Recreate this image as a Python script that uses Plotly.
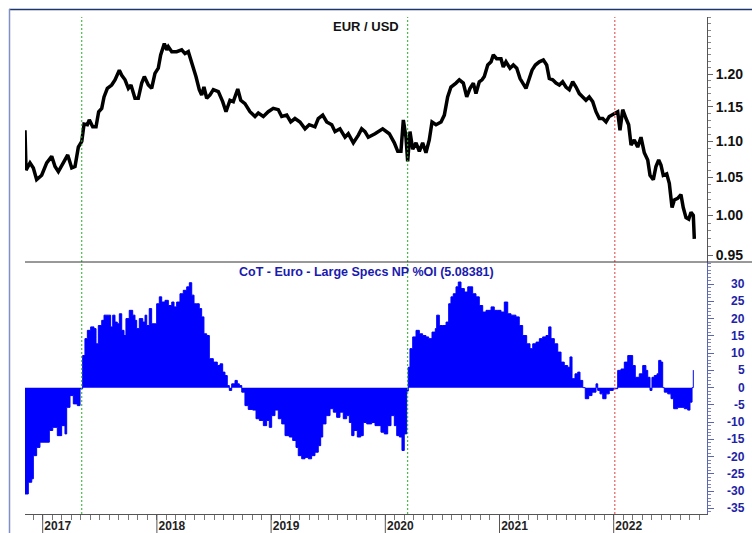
import math
import plotly.graph_objects as go

# ---------------- data ----------------
# EUR/USD weekly close, time in decimal years
eur_t = [2016.845, 2016.854, 2016.889, 2016.918, 2016.947, 2016.991, 2017.035, 2017.079, 2017.108, 2017.137,
         2017.180, 2017.219, 2017.254, 2017.283, 2017.312, 2017.342, 2017.362, 2017.391, 2017.408, 2017.438,
         2017.467, 2017.490, 2017.517, 2017.537, 2017.566, 2017.604, 2017.633, 2017.653, 2017.671, 2017.692,
         2017.721, 2017.750, 2017.773, 2017.808, 2017.837, 2017.867, 2017.890, 2017.925, 2017.954, 2017.983,
         2018.012, 2018.033, 2018.065, 2018.086, 2018.100, 2018.130, 2018.173, 2018.217, 2018.246, 2018.275,
         2018.305, 2018.342, 2018.371, 2018.392, 2018.412, 2018.436, 2018.465, 2018.494, 2018.538, 2018.576,
         2018.605, 2018.640, 2018.669, 2018.708, 2018.734, 2018.771, 2018.815, 2018.859, 2018.888, 2018.932,
         2018.975, 2019.019, 2019.063, 2019.093, 2019.137, 2019.172, 2019.209, 2019.253, 2019.297, 2019.334,
         2019.384, 2019.413, 2019.452, 2019.487, 2019.531, 2019.560, 2019.603, 2019.647, 2019.676, 2019.720,
         2019.764, 2019.793, 2019.822, 2019.851, 2019.910, 2019.977, 2020.035, 2020.079, 2020.109, 2020.137,
         2020.158, 2020.181, 2020.196, 2020.216, 2020.240, 2020.269, 2020.298, 2020.327, 2020.356, 2020.385,
         2020.409, 2020.444, 2020.488, 2020.517, 2020.546, 2020.575, 2020.619, 2020.648, 2020.683, 2020.713,
         2020.742, 2020.771, 2020.794, 2020.823, 2020.847, 2020.867, 2020.897, 2020.926, 2020.946, 2020.975,
         2021.013, 2021.033, 2021.057, 2021.092, 2021.121, 2021.151, 2021.180, 2021.208, 2021.232, 2021.261,
         2021.285, 2021.314, 2021.349, 2021.384, 2021.413, 2021.436, 2021.466, 2021.495, 2021.524, 2021.553,
         2021.582, 2021.611, 2021.641, 2021.670, 2021.699, 2021.729, 2021.757, 2021.786, 2021.816, 2021.845,
         2021.874, 2021.904, 2021.933, 2021.961, 2022.005, 2022.035, 2022.055, 2022.079, 2022.108, 2022.131,
         2022.152, 2022.180, 2022.210, 2022.239, 2022.268, 2022.298, 2022.318, 2022.347, 2022.370, 2022.394,
         2022.414, 2022.434, 2022.464, 2022.487, 2022.511, 2022.531, 2022.560, 2022.589, 2022.609, 2022.633,
         2022.657, 2022.677, 2022.697, 2022.706]
eur_v = [1.116, 1.060, 1.070, 1.063, 1.047, 1.053, 1.070, 1.079, 1.065, 1.058,
         1.070, 1.081, 1.063, 1.065, 1.092, 1.100, 1.125, 1.124, 1.131, 1.121,
         1.121, 1.143, 1.148, 1.165, 1.178, 1.183, 1.191, 1.198, 1.206, 1.198,
         1.191, 1.178, 1.183, 1.163, 1.163, 1.186, 1.196, 1.183, 1.178, 1.201,
         1.209, 1.230, 1.248, 1.238, 1.243, 1.235, 1.235, 1.238, 1.232, 1.235,
         1.219, 1.196, 1.176, 1.168, 1.180, 1.163, 1.168, 1.176, 1.173, 1.158,
         1.143, 1.160, 1.158, 1.177, 1.160, 1.155, 1.143, 1.136, 1.141, 1.136,
         1.143, 1.148, 1.146, 1.136, 1.138, 1.128, 1.133, 1.128, 1.118, 1.124,
         1.121, 1.133, 1.138, 1.128, 1.124, 1.114, 1.118, 1.106, 1.111, 1.098,
         1.109, 1.118, 1.114, 1.106, 1.111, 1.118, 1.111, 1.098, 1.086, 1.086,
         1.131, 1.106, 1.072, 1.114, 1.089, 1.098, 1.086, 1.098, 1.084, 1.102,
         1.128, 1.124, 1.128, 1.138, 1.165, 1.180, 1.186, 1.191, 1.186, 1.165,
         1.178, 1.186, 1.170, 1.188, 1.191, 1.196, 1.214, 1.219, 1.230, 1.224,
         1.224, 1.211, 1.219, 1.209, 1.214, 1.209, 1.193, 1.186, 1.178, 1.193,
         1.206, 1.214, 1.219, 1.222, 1.214, 1.193, 1.191, 1.186, 1.183, 1.188,
         1.180, 1.176, 1.188, 1.180, 1.170, 1.165, 1.160, 1.165, 1.158, 1.143,
         1.133, 1.133, 1.128, 1.136, 1.141, 1.143, 1.116, 1.146, 1.133, 1.124,
         1.095, 1.102, 1.092, 1.106, 1.084, 1.074, 1.053, 1.047, 1.065, 1.074,
         1.067, 1.053, 1.055, 1.042, 1.010, 1.020, 1.022, 1.027, 1.010, 0.997,
         0.995, 1.004, 1.000, 0.970]

# CoT - Euro - Large Specs net position as % of open interest
cot_t = [2016.845, 2016.874, 2016.904, 2016.918, 2016.947, 2016.976, 2017.020, 2017.058, 2017.088, 2017.128,
         2017.166, 2017.195, 2017.210, 2017.239, 2017.268, 2017.303, 2017.327, 2017.350, 2017.370, 2017.391,
         2017.420, 2017.449, 2017.467, 2017.487, 2017.517, 2017.537, 2017.574, 2017.595, 2017.613, 2017.633,
         2017.653, 2017.671, 2017.692, 2017.712, 2017.729, 2017.758, 2017.788, 2017.808, 2017.823, 2017.846,
         2017.876, 2017.896, 2017.911, 2017.933, 2017.954, 2017.975, 2017.998, 2018.021, 2018.042, 2018.071,
         2018.100, 2018.130, 2018.150, 2018.173, 2018.202, 2018.231, 2018.261, 2018.284, 2018.305, 2018.325,
         2018.349, 2018.371, 2018.392, 2018.412, 2018.436, 2018.459, 2018.494, 2018.529, 2018.553, 2018.576,
         2018.596, 2018.616, 2018.634, 2018.655, 2018.684, 2018.704, 2018.722, 2018.743, 2018.771, 2018.800,
         2018.839, 2018.868, 2018.897, 2018.932, 2018.961, 2018.984, 2019.005, 2019.034, 2019.063, 2019.093,
         2019.122, 2019.159, 2019.189, 2019.218, 2019.238, 2019.268, 2019.297, 2019.326, 2019.355, 2019.384,
         2019.413, 2019.434, 2019.452, 2019.481, 2019.516, 2019.545, 2019.574, 2019.603, 2019.632, 2019.662,
         2019.685, 2019.706, 2019.726, 2019.755, 2019.785, 2019.807, 2019.837, 2019.881, 2019.910, 2019.962,
         2019.991, 2020.021, 2020.050, 2020.079, 2020.100, 2020.123, 2020.146, 2020.166, 2020.187, 2020.201,
         2020.216, 2020.240, 2020.269, 2020.298, 2020.327, 2020.356, 2020.380, 2020.409, 2020.438, 2020.450,
         2020.473, 2020.503, 2020.532, 2020.555, 2020.575, 2020.595, 2020.619, 2020.639, 2020.663, 2020.692,
         2020.722, 2020.742, 2020.765, 2020.794, 2020.823, 2020.853, 2020.882, 2020.926, 2020.954, 2020.984,
         2021.013, 2021.042, 2021.072, 2021.101, 2021.144, 2021.173, 2021.203, 2021.238, 2021.267, 2021.291,
         2021.320, 2021.349, 2021.378, 2021.407, 2021.431, 2021.451, 2021.480, 2021.510, 2021.539, 2021.567,
         2021.597, 2021.617, 2021.635, 2021.661, 2021.685, 2021.705, 2021.729, 2021.751, 2021.781, 2021.810,
         2021.845, 2021.860, 2021.880, 2021.904, 2021.933, 2021.961, 2021.996, 2022.035, 2022.064, 2022.093,
         2022.123, 2022.152, 2022.166, 2022.189, 2022.224, 2022.254, 2022.282, 2022.298, 2022.318, 2022.335,
         2022.355, 2022.379, 2022.394, 2022.414, 2022.429, 2022.443, 2022.473, 2022.502, 2022.525, 2022.560,
         2022.589, 2022.618, 2022.648, 2022.668, 2022.686, 2022.697]
cot_v = [-30.8, -27.4, -26.4, -19.7, -17.3, -15.8, -15.8, -12.4, -11.5, -13.9,
         -11.0, -13.4, -5.7, -2.3, -4.7, -5.2, -0.3, 9.3, 14.2, 16.6,
         17.6, 17.1, 12.7, 18.0, 19.5, 21.0, 21.0, 17.6, 21.0, 19.0,
         18.5, 21.4, 16.6, 15.1, 20.0, 22.4, 21.0, 19.5, 17.1, 20.0,
         19.0, 21.0, 18.0, 22.9, 18.5, 18.5, 24.3, 26.3, 24.8, 25.3,
         23.8, 24.8, 23.4, 24.8, 27.2, 28.2, 29.2, 30.4, 26.8, 24.3,
         24.3, 22.9, 20.5, 15.6, 15.1, 8.4, 7.4, 6.4, 6.9, 4.5,
         3.5, 0.6, -0.8, 1.1, 2.1, 1.1, 0.6, -1.3, -5.2, -6.3,
         -6.5, -9.0, -9.5, -11.0, -9.5, -11.5, -8.1, -6.5, -9.0, -10.5,
         -13.9, -14.3, -15.3, -17.3, -19.7, -20.6, -20.2, -20.6, -19.7, -18.7,
         -16.8, -14.3, -10.5, -8.1, -6.1, -7.1, -8.6, -7.1, -9.0, -8.1,
         -10.1, -13.9, -12.4, -14.3, -13.9, -10.1, -10.5, -10.1, -11.0, -12.9,
         -13.4, -11.0, -8.1, -11.0, -13.9, -14.3, -18.2, -13.4, -1.0, 5.9,
         11.3, 14.7, 16.6, 15.6, 15.1, 14.7, 14.2, 16.1, 17.1, 21.0,
         18.0, 18.0, 19.0, 24.3, 26.3, 27.2, 29.2, 30.6, 28.7, 27.7,
         29.2, 29.2, 27.2, 26.3, 23.8, 21.9, 22.4, 23.4, 22.4, 22.4,
         21.9, 24.8, 21.4, 21.0, 20.5, 18.0, 15.1, 12.7, 11.3, 12.7,
         13.2, 14.2, 14.7, 15.1, 17.6, 14.2, 12.7, 10.3, 7.4, 6.4,
         5.9, 8.9, 2.6, 4.0, 4.5, 2.1, 0.0, -3.2, -2.3, -1.3,
         1.1, -0.8, -1.8, -3.2, -1.8, -0.8, -0.3, 5.0, 5.4, 7.4,
         9.3, 9.3, 6.4, 3.0, 4.0, 6.4, 5.0, 3.0, -0.8, 3.0,
         3.5, 4.0, 7.9, 7.4, 0.0, -1.3, -1.8, -3.2, -6.1, -5.7,
         -5.7, -6.1, -6.5, -4.2, 0.0, 5.08381]

tick_years = [2017, 2018, 2019, 2020, 2021, 2022]
eur_ticks = [0.95, 1.00, 1.05, 1.10, 1.15, 1.20]
cot_ticks = [30, 25, 20, 15, 10, 5, 0, -5, -10, -15, -20, -25, -30, -35]
event_t = [2017.342, 2020.196, 2022.010]
event_colors = ["#22b022", "#22b022", "#e03c3c"]

# ---------------- figure ----------------
W, H = 752, 533
ML, MR, MT, MB = 25, 45, 17, 19
PW, PH = W - ML - MR, H - MT - MB
split = (514 - 262) / PH  # boundary between the two panels (paper units)

def px_x(p):
    return (p - ML) / PW

def px_y(p):
    return (H - MB - p) / PH

fig = go.Figure()
fig.add_trace(go.Scatter(x=eur_t, y=eur_v, mode="lines", xaxis="x", yaxis="y",
                         line=dict(color="black", width=3.5), hoverinfo="skip", showlegend=False))
fig.add_trace(go.Scatter(x=cot_t, y=cot_v, mode="lines", xaxis="x", yaxis="y2",
                         line=dict(color="#0000ff", width=1, shape="hv"),
                         fill="tozeroy", fillcolor="#0000ff", hoverinfo="skip", showlegend=False))

bold = dict(family="Liberation Sans, Arial, sans-serif", weight="bold")

fig.update_layout(
    width=W, height=H,
    margin=dict(l=ML, r=MR, t=MT, b=MB, autoexpand=False),
    paper_bgcolor="white", plot_bgcolor="white",
    showlegend=False,
    xaxis=dict(
        range=[2016.845, 2022.817], anchor="y2", showgrid=False, zeroline=False, automargin=False,
        showline=True, linecolor="#555", linewidth=1,
        tickvals=tick_years, ticktext=[str(y) for y in tick_years],
        ticks="outside", ticklen=1, tickcolor="#555",
        tickfont=dict(size=12, color="#222", **bold), ticklabelshift=15,
        minor=dict(dtick=1/12, tick0=2017, ticks="outside", ticklen=5, tickcolor="#777"),
    ),
    yaxis=dict(
        type="log", domain=[split, 1], automargin=False,
        range=[math.log10(0.9415), math.log10(1.2916)],
        side="right", anchor="x", showgrid=False, zeroline=False,
        showline=True, linecolor="#555", linewidth=1,
        tickvals=eur_ticks, ticktext=["%.2f" % v for v in eur_ticks],
        ticks="outside", ticklen=5, tickcolor="#666",
        tickfont=dict(size=14, color="#111", **bold),
        minor=dict(tickvals=[round(0.94 + 0.01 * i, 2) for i in range(36)],
                   ticks="outside", ticklen=3, tickcolor="#888"),
    ),
    yaxis2=dict(
        domain=[0, split], range=[-36.6, 36.4], automargin=False,
        side="right", anchor="x", showgrid=False, zeroline=False,
        showline=True, linecolor="#5a66b0", linewidth=1,
        tickvals=cot_ticks, showticklabels=False,
        ticks="outside", ticklen=6, tickcolor="#5a66b0",
        minor=dict(dtick=1, ticks="outside", ticklen=3, tickcolor="#7c86c4"),
    ),
)

shapes = []
# event lines
for t, c in zip(event_t, event_colors):
    shapes.append(dict(type="line", xref="x", yref="paper", x0=t, x1=t, y0=0, y1=1,
                       line=dict(color=c, width=1, dash="2px,2px")))
# long year ticks
for y in tick_years:
    shapes.append(dict(type="line", xref="x", yref="paper", x0=y, x1=y, y0=0, y1=px_y(533),
                       line=dict(color="#555", width=1)))
# panel separator
shapes.append(dict(type="line", xref="paper", yref="paper", x0=0, x1=px_x(752), y0=split, y1=split,
                   line=dict(color="#333", width=1)))
# outer frame
shapes.append(dict(type="line", xref="paper", yref="paper", x0=px_x(9), x1=px_x(752),
                   y0=px_y(9.5), y1=px_y(9.5), line=dict(color="#1c3670", width=1.5)))
shapes.append(dict(type="line", xref="paper", yref="paper", x0=px_x(9.5), x1=px_x(9.5),
                   y0=px_y(9), y1=px_y(533), line=dict(color="#8090c4", width=1.5)))
fig.update_layout(shapes=shapes)

ann = [
    dict(text="EUR / USD", xref="paper", yref="paper", x=0.5, y=px_y(26), showarrow=False,
         xanchor="center", yanchor="middle", font=dict(size=13, color="#111", **bold)),
    dict(text="CoT - Euro - Large Specs NP %OI (5.08381)", xref="paper", yref="paper",
         x=0.5, y=px_y(271.5), showarrow=False, xanchor="center", yanchor="middle",
         font=dict(size=12.5, color="#1a1ab0", **bold)),
]
for v in cot_ticks:
    ann.append(dict(text=str(v), xref="paper", yref="y2", x=1, y=v, xshift=40, showarrow=False,
                    xanchor="right", yanchor="middle", font=dict(size=12, color="#2222a8", **bold)))
fig.update_layout(annotations=ann)

fig.write_html("out.html", config={"displayModeBar": False},
               post_script="document.body.style.margin='0px';document.body.style.overflow='hidden';")
